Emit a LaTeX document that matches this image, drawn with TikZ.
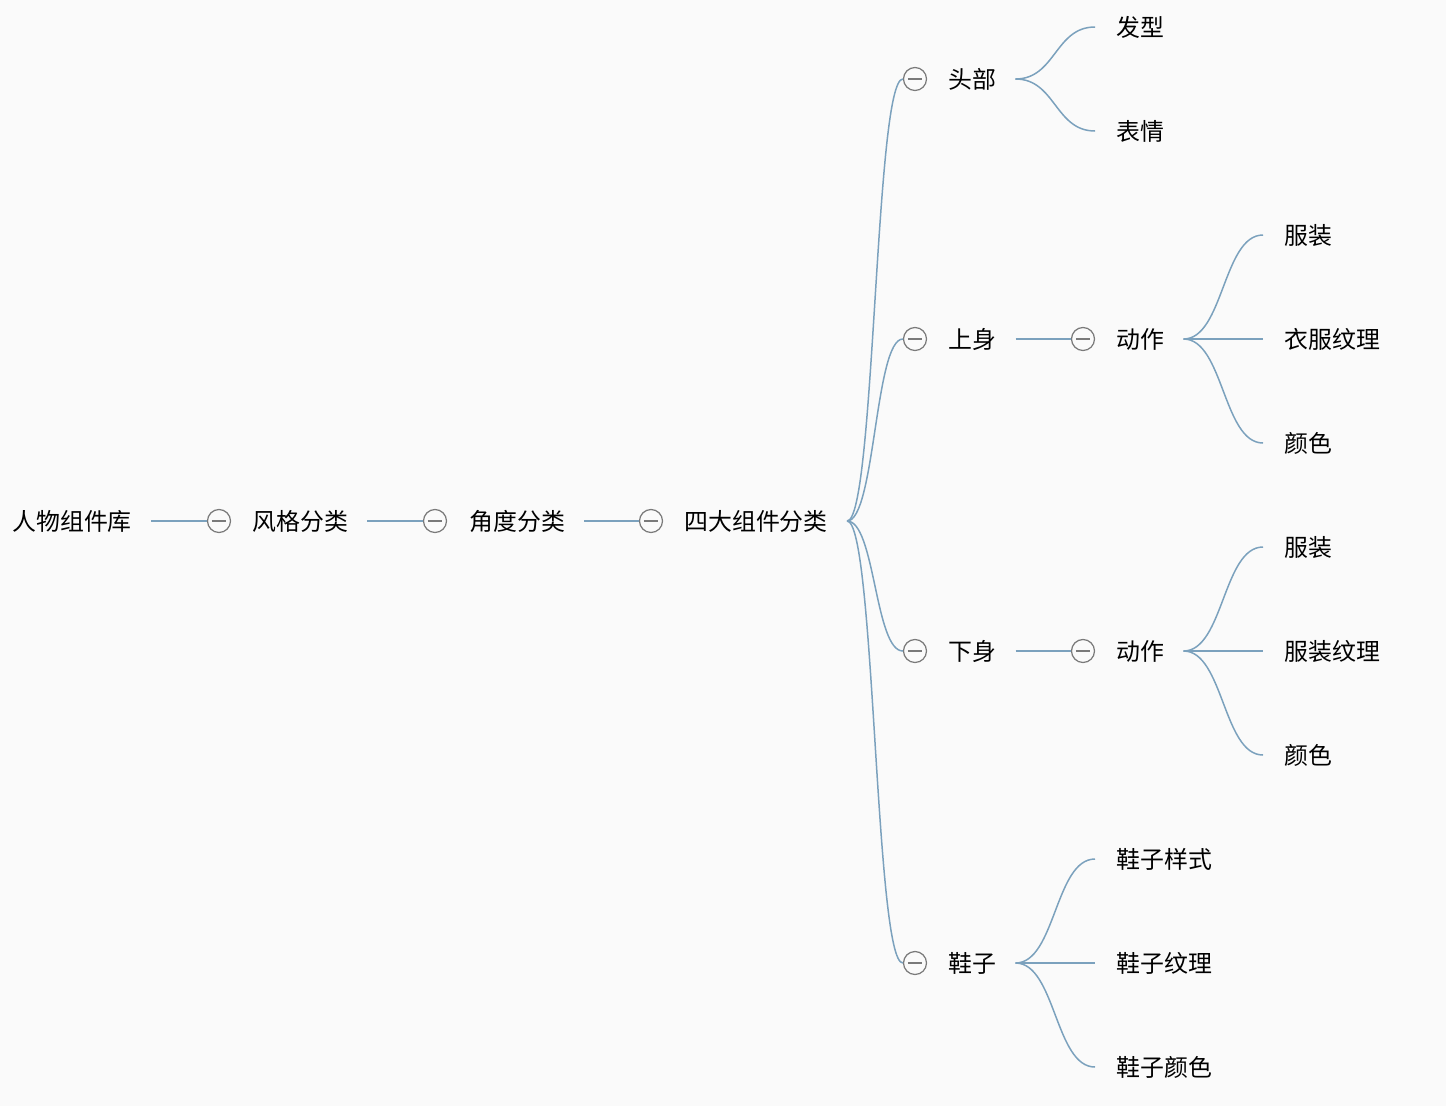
\documentclass[tikz,border=0pt]{standalone}
\usepackage{fontspec}
\setmainfont{Noto Sans CJK SC}
\usetikzlibrary{calc}
\definecolor{bgcol}{HTML}{FAFAFA}
\definecolor{linkcol}{HTML}{7BA1BD}
\definecolor{foldcol}{HTML}{7A7A7A}

\begin{document}
\begin{tikzpicture}[x=0.02cm,y=-0.02cm,
    topic/.style={anchor=west,inner sep=0pt,font=\fontsize{13.6}{16}\selectfont},
    fold/.style={circle,draw=foldcol,line width=0.7pt,inner sep=0pt,minimum size=0.46cm,
        path picture={\draw[foldcol,line width=0.7pt] ([xshift=2.5pt]path picture bounding box.west) -- ([xshift=-2.5pt]path picture bounding box.east);}},
    link/.style={draw=linkcol,line width=0.85pt},
    curve/.style={link,shorten >=0.42cm}
]
    \fill[bgcol] (0,0) rectangle (1446,1106);

    % main line
    \node[topic] (lib) at (12,521) {人物组件库};
    \node[fold] (f1) at (219,521) {};
    \node[topic] (style) at (252,521) {风格分类};
    \node[fold] (f2) at (435,521) {};
    \node[topic] (angle) at (469,521) {角度分类};
    \node[fold] (f3) at (651,521) {};
    \node[topic] (parts) at (684,521) {四大组件分类};

    \path[link,shorten <=0.38cm] (lib.east) -- (f1.west);
    \path[link,shorten <=0.38cm] (style.east) -- (f2.west);
    \path[link,shorten <=0.38cm] (angle.east) -- (f3.west);

    % second level
    \node[fold] (fh) at (915,79) {};
    \node[topic] (head) at (948,79) {头部};
    \node[fold] (fu) at (915,339) {};
    \node[topic] (upper) at (948,339) {上身};
    \node[fold] (fl) at (915,651) {};
    \node[topic] (lower) at (948,651) {下身};
    \node[fold] (fs) at (915,963) {};
    \node[topic] (shoe) at (948,963) {鞋子};

    \coordinate (ps) at ($(parts.east)+(19,0)$);
    \foreach \f in {fh,fu,fl,fs}
        \path[link] (ps) .. controls +(28,0) and +(-28,0) .. (\f.west);

    % head
    \node[topic] (hair) at (1116,27) {发型};
    \node[topic] (face) at (1116,131) {表情};
    \coordinate (hs) at ($(head.east)+(19,0)$);
    \foreach \c in {hair,face}
        \path[curve] (hs) .. controls +(40,0) and +(-61,0) .. (\c.west);

    % upper body
    \node[fold] (fua) at (1083,339) {};
    \node[topic] (uact) at (1116,339) {动作};
    \path[link,shorten <=0.38cm] (upper.east) -- (fua.west);
    \node[topic] (ucl) at (1284,235) {服装};
    \node[topic] (utx) at (1284,339) {衣服纹理};
    \node[topic] (uco) at (1284,443) {颜色};
    \coordinate (us) at ($(uact.east)+(19,0)$);
    \foreach \c in {ucl,utx,uco}
        \path[curve] (us) .. controls +(40,0) and +(-61,0) .. (\c.west);

    % lower body
    \node[fold] (fla) at (1083,651) {};
    \node[topic] (lact) at (1116,651) {动作};
    \path[link,shorten <=0.38cm] (lower.east) -- (fla.west);
    \node[topic] (lcl) at (1284,547) {服装};
    \node[topic] (ltx) at (1284,651) {服装纹理};
    \node[topic] (lco) at (1284,755) {颜色};
    \coordinate (ls) at ($(lact.east)+(19,0)$);
    \foreach \c in {lcl,ltx,lco}
        \path[curve] (ls) .. controls +(40,0) and +(-61,0) .. (\c.west);

    % shoes
    \node[topic] (sst) at (1116,859) {鞋子样式};
    \node[topic] (stx) at (1116,963) {鞋子纹理};
    \node[topic] (sco) at (1116,1067) {鞋子颜色};
    \coordinate (ss) at ($(shoe.east)+(19,0)$);
    \foreach \c in {sst,stx,sco}
        \path[curve] (ss) .. controls +(40,0) and +(-61,0) .. (\c.west);
\end{tikzpicture}
\end{document}
